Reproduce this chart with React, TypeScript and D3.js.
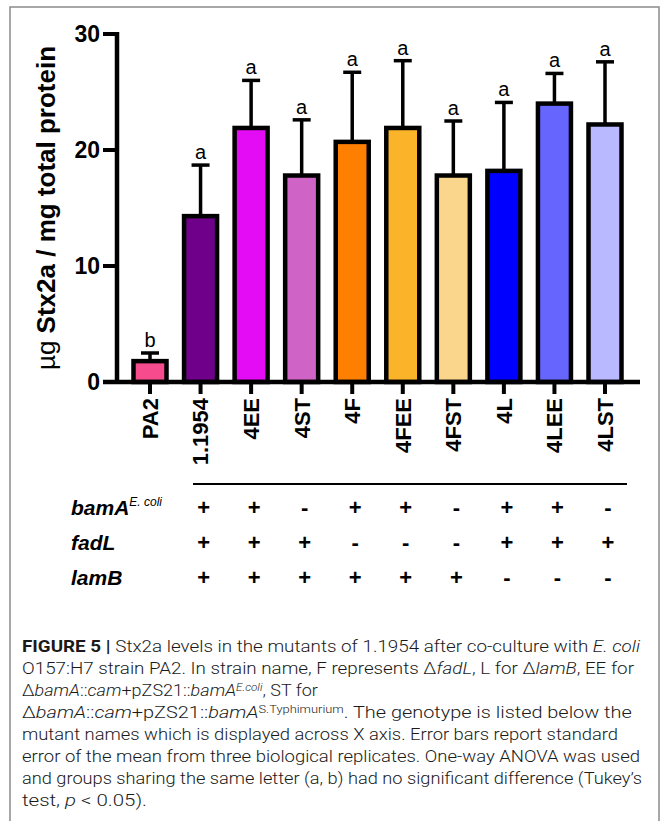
import React from 'react';
import * as d3 from 'd3';

const strains = ['PA2', '1.1954', '4EE', '4ST', '4F', '4FEE', '4FST', '4L', '4LEE', '4LST'];
const means = [1.8, 14.3, 21.9, 17.8, 20.7, 21.9, 17.8, 18.2, 24.0, 22.2];
const errors = [0.7, 4.4, 4.1, 4.8, 6.0, 5.8, 4.7, 5.9, 2.6, 5.4];
const letters = ['b', 'a', 'a', 'a', 'a', 'a', 'a', 'a', 'a', 'a'];
const colors = ['#f64b8c', '#6e008a', '#e40cf4', '#cf63c6', '#ff7f00', '#fbb42a', '#fad68d', '#0000ff', '#6666ff', '#b9b9ff'];
const yTicks = [0, 10, 20, 30];

// genotype table (strains 1.1954 .. 4LST)
const genes = ['bamA', 'fadL', 'lamB'];
const bamA = ['+', '+', '-', '+', '+', '-', '+', '+', '-'];
const fadL = ['+', '+', '+', '-', '-', '-', '+', '+', '+'];
const lamB = ['+', '+', '+', '+', '+', '+', '-', '-', '-'];
const genotype = [bamA, fadL, lamB];

type Seg = { t: string; b?: boolean; i?: boolean; sup?: boolean };
const caption: Seg[][] = [
  [{ t: 'FIGURE 5 | ', b: true }, { t: 'Stx2a levels in the mutants of 1.1954 after co-culture with ' }, { t: 'E. coli', i: true }],
  [{ t: 'O157:H7 strain PA2. In strain name, F represents Δ' }, { t: 'fadL', i: true }, { t: ', L for Δ' }, { t: 'lamB', i: true }, { t: ', EE for' }],
  [{ t: 'Δ' }, { t: 'bamA', i: true }, { t: '::' }, { t: 'cam', i: true }, { t: '+pZS21::' }, { t: 'bamA', i: true }, { t: 'E.coli', i: true, sup: true }, { t: ', ST for' }],
  [{ t: 'Δ' }, { t: 'bamA', i: true }, { t: '::' }, { t: 'cam', i: true }, { t: '+pZS21::' }, { t: 'bamA', i: true }, { t: 'S.Typhimurium', sup: true }, { t: '. The genotype is listed below the' }],
  [{ t: 'mutant names which is displayed across X axis. Error bars report standard' }],
  [{ t: 'error of the mean from three biological replicates. One-way ANOVA was used' }],
  [{ t: 'and groups sharing the same letter (a, b) had no significant difference (Tukey’s' }],
  [{ t: 'test, ' }, { t: 'p', i: true }, { t: ' < 0.05).' }],
];
// right end of each caption line; 0 = stretched by a horizontal scale instead
const captionEnds = [640, 634, 0, 0, 618, 640, 642, 147];
const captionScale = [1, 1, 1.06, 1.17, 1, 1, 1, 1];

const W = 665;
const H = 821;
const FONT = "'Liberation Sans', Arial, Helvetica, sans-serif";
const CAP_FONT = "Roboto, 'Liberation Sans', Arial, sans-serif";

export default function App() {
  const x = d3.scalePoint<string>().domain(strains).range([150, 605]);
  const y = d3.scaleLinear().domain([0, 30]).range([382, 34]);
  const barW = 33;
  const axisLeft = 117;

  return (
    <svg width={W} height={H} style={{ position: 'absolute', left: 0, top: 0, background: '#fff' }}>
      <rect x={10} y={7} width={649} height={830} fill="none" stroke="#8a8a8a" strokeWidth={1.5} />

      {/* bars */}
      {strains.map((s, i) => {
        const cx = x(s)!;
        const top = y(means[i]);
        const errTop = y(means[i] + errors[i]);
        return (
          <g key={s}>
            <line x1={cx} x2={cx} y1={top} y2={errTop} stroke="#000" strokeWidth={3.5} />
            <line x1={cx - 9} x2={cx + 9} y1={errTop} y2={errTop} stroke="#000" strokeWidth={3.5} />
            <rect x={cx - barW / 2} y={top} width={barW} height={y(0) - top}
              fill={colors[i]} stroke="#000" strokeWidth={4.5} />
            <text x={cx} y={errTop - 6} textAnchor="middle" fontFamily={FONT} fontSize={20}>{letters[i]}</text>
          </g>
        );
      })}

      {/* y axis */}
      <line x1={axisLeft} x2={axisLeft} y1={y(30) - 2} y2={y(0)} stroke="#000" strokeWidth={4.5} />
      {yTicks.map(t => (
        <g key={t}>
          <line x1={103} x2={axisLeft} y1={y(t)} y2={y(t)} stroke="#000" strokeWidth={4} />
          <text x={100} y={y(t)} dy="0.36em" textAnchor="end" fontFamily={FONT} fontWeight="bold" fontSize={23}>{t}</text>
        </g>
      ))}
      <text transform={`translate(46, ${(y(0) + y(30)) / 2}) rotate(-90)`} dy="0.36em" textAnchor="middle"
        fontFamily={FONT} fontWeight="bold" fontSize={26}>
        <tspan fontWeight="normal">µg</tspan> Stx2a / mg total protein
      </text>

      {/* x axis */}
      <line x1={103} x2={640} y1={y(0)} y2={y(0)} stroke="#000" strokeWidth={4.5} />
      {strains.map(s => (
        <g key={s}>
          <line x1={x(s)!} x2={x(s)!} y1={y(0)} y2={y(0) + 12} stroke="#000" strokeWidth={4} />
          <text transform={`translate(${x(s)}, ${y(0) + 16}) rotate(-90)`} dy="0.36em" textAnchor="end"
            fontFamily={FONT} fontWeight="bold" fontSize={22}>{s}</text>
        </g>
      ))}

      {/* genotype table */}
      <line x1={193} x2={627} y1={484} y2={484} stroke="#000" strokeWidth={2} />
      {genes.map((g, r) => {
        const ry = 507 + r * 35;
        return (
          <g key={g}>
            <text x={71} y={ry} dy="0.36em" fontFamily={FONT} fontWeight="bold" fontStyle="italic" fontSize={21}>
              {g}
              {r === 0 && <tspan fontWeight="normal" fontSize={12} dy={-9}>E. coli</tspan>}
            </text>
            {genotype[r].map((v, c) => (
              <text key={c} x={x(strains[c + 1])! + 3} y={ry} dy="0.36em" textAnchor="middle"
                fontFamily={FONT} fontWeight="bold" fontSize={22}>{v}</text>
            ))}
          </g>
        );
      })}

      {/* caption */}
      {caption.map((line, li) => {
        let raised = false;
        const end = captionEnds[li];
        const ly = 652 + li * 22;
        return (
          <text key={li} x={0} y={0} transform={`translate(22, ${ly}) scale(${captionScale[li]}, 1)`}
            fontFamily={CAP_FONT} fontSize={17} fill="#1a1a1a"
            fontWeight={300} textLength={end ? end - 22 : undefined}
            lengthAdjust={end ? 'spacingAndGlyphs' : undefined}>
            {line.map((sg, si) => {
              let dy = 0;
              if (sg.sup && !raised) { dy = -5; raised = true; }
              else if (!sg.sup && raised) { dy = 5; raised = false; }
              return (
                <tspan key={si} dy={dy || undefined} fontWeight={sg.b ? 'bold' : 300}
                  fontStyle={sg.i ? 'italic' : 'normal'} fontSize={sg.sup ? 11 : undefined}>{sg.t}</tspan>
              );
            })}
          </text>
        );
      })}
    </svg>
  );
}
